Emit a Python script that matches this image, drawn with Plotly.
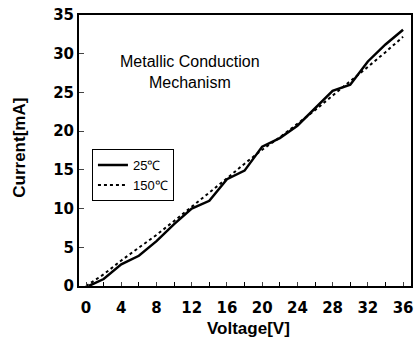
import plotly.graph_objects as go

volt_25 = [0.3, 2, 4, 6, 8, 10, 12, 14, 16, 18, 20, 22, 24, 26, 28, 30, 32, 34, 36]
curr_25 = [0, 0.9, 2.8, 3.9, 5.8, 8.0, 10.0, 11.0, 13.8, 14.9, 18.0, 19.1, 20.7, 22.9, 25.2, 26.0, 29.0, 31.2, 33.1]
volt_150 = [0, 2, 4, 6, 8, 10, 12, 14, 16, 18, 20, 22, 24, 26, 28, 30, 32, 34, 36]
curr_150 = [0, 1.5, 3.3, 4.9, 6.6, 8.4, 10.2, 12.0, 13.9, 15.8, 17.6, 19.2, 20.9, 22.7, 24.6, 26.4, 28.3, 30.2, 32.2]
x_ticks = [0, 4, 8, 12, 16, 20, 24, 28, 32, 36]
y_ticks = [0, 5, 10, 15, 20, 25, 30, 35]

FONT = "Liberation Sans, Arial, sans-serif"
TICKFONT = "DejaVu Sans, sans-serif"

fig = go.Figure()
fig.add_trace(go.Scatter(x=volt_25, y=curr_25, mode="lines", name="25℃",
                         line=dict(color="black", width=2.5)))
fig.add_trace(go.Scatter(x=volt_150, y=curr_150, mode="lines", name="150℃",
                         line=dict(color="black", width=2, dash="dot")))

fig.update_layout(
    width=419, height=345,
    margin=dict(l=79, r=6, t=13, b=59),
    paper_bgcolor="white", plot_bgcolor="white",
    font=dict(family=FONT, color="black"),
    legend=dict(x=0.039, y=0.505, xanchor="left", yanchor="top",
                bordercolor="black", borderwidth=1, bgcolor="white",
                font=dict(size=13, family=FONT),
                tracegroupgap=0),
    annotations=[
        dict(text="Metallic Conduction<br>Mechanism", x=0.335, y=0.79,
             xref="paper", yref="paper", xanchor="center", yanchor="middle",
             showarrow=False, font=dict(size=16, family=FONT, color="black")),
        dict(text="<b>Voltage[V]</b>", x=0.512, y=-0.158,
             xref="paper", yref="paper", xanchor="center", yanchor="middle",
             showarrow=False, font=dict(size=17, family=FONT, color="black")),
        dict(text="<b>Current[mA]</b>", x=-0.18, y=0.511, textangle=-90,
             xref="paper", yref="paper", xanchor="center", yanchor="middle",
             showarrow=False, font=dict(size=17, family=FONT, color="black")),
    ],
)
fig.update_xaxes(range=[-0.8, 36.9], tickvals=x_ticks, ticks="inside", ticklen=4,
                 minor=dict(dtick=2, tick0=0, ticks="inside", ticklen=4, tickcolor="black"),
                 showline=True, linecolor="black", linewidth=2, mirror=True,
                 showgrid=False, zeroline=False, ticklabelstandoff=7,
                 tickfont=dict(size=15, family=TICKFONT, weight="bold"))
fig.update_yaxes(range=[0, 35], tickvals=y_ticks, ticks="inside", ticklen=5,
                 showline=True, linecolor="black", linewidth=2, mirror=True,
                 showgrid=False, zeroline=False, ticksuffix="\u00a0",
                 tickfont=dict(size=15, family=TICKFONT, weight="bold"))

fig.write_html("out.html")
